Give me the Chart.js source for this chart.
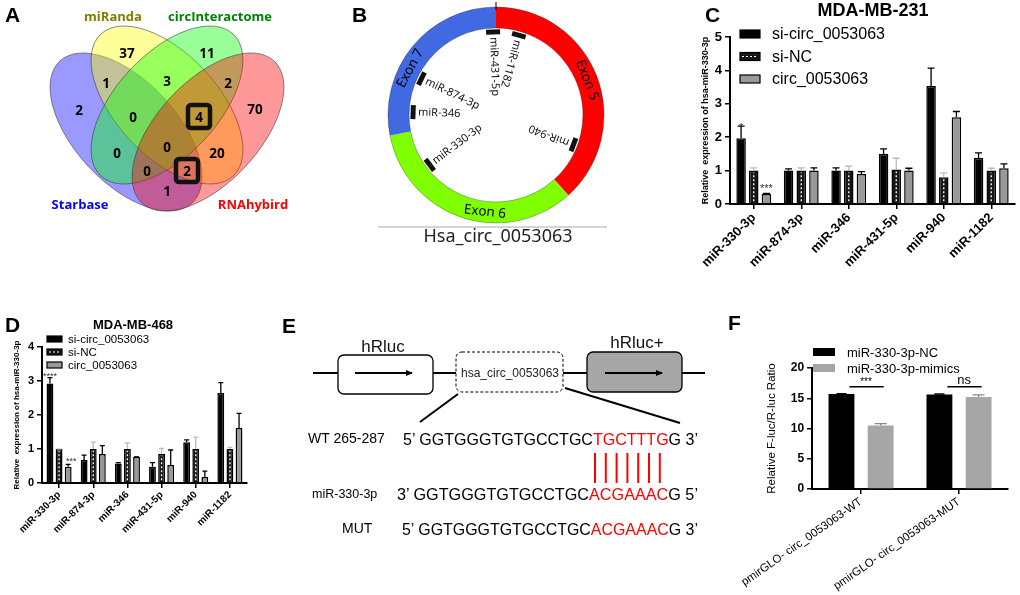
<!DOCTYPE html>
<html>
<head>
<meta charset="utf-8">
<script src="https://cdn.jsdelivr.net/npm/chart.js@4.4.1/dist/chart.umd.min.js"></script>
<style>
  body { margin: 0; background: #fff; }
  #fig { position: relative; width: 1020px; height: 595px; overflow: hidden; }
  canvas, svg { position: absolute; }
</style>
</head>
<body>
<div id="fig">
  <canvas id="ring" width="230" height="230" style="left:381px;top:0px;width:230px;height:230px"></canvas>
  <canvas id="c231" width="320" height="300" style="left:700px;top:0px;width:320px;height:300px"></canvas>
  <canvas id="c468" width="260" height="295" style="left:0px;top:300px;width:260px;height:295px"></canvas>
  <canvas id="luc" width="300" height="295" style="left:720px;top:300px;width:300px;height:295px"></canvas>
  <svg id="draw" width="1020" height="595" style="left:0;top:0"></svg>
</div>
<script>
// ---- data ----
// A: Venn counts
const vennSets = ['miRanda', 'circInteractome', 'Starbase', 'RNAhybird'];
const vennCounts = [37, 11, 1, 3, 2, 2, 0, 4, 70, 0, 0, 20, 0, 2, 1];
const vennBoxed = [7, 13]; // indexes of counts that are framed

// B: circRNA exons and miRNA sites
const exonNames = ['Exon 5', 'Exon 6', 'Exon 7'];
const exonArc = [138, 121, 101];
const siteNames = ['miR-431-5p', 'miR-1182', 'miR-940', 'miR-330-3p', 'miR-346', 'miR-874-3p'];
const siteAngles = [358, 16, 111, 233, 272, 296];

// C / D: relative expression
const mirs = ['miR-330-3p', 'miR-874-3p', 'miR-346', 'miR-431-5p', 'miR-940', 'miR-1182'];
const groups = ['si-circ_0053063', 'si-NC', 'circ_0053063'];
const mb231SiCirc = [1.97, 1.0, 1.0, 1.5, 3.53, 1.38];
const mb231SiCircErr = [0.36, 0.05, 0.08, 0.15, 0.54, 0.15];
const mb231SiNC = [1.0, 1.0, 1.0, 1.03, 0.8, 1.0];
const mb231SiNCErr = [0.08, 0.08, 0.13, 0.34, 0.13, 0.07];
const mb231Circ = [0.3, 1.0, 0.9, 1.0, 2.6, 1.07];
const mb231CircErr = [0.02, 0.08, 0.07, 0.07, 0.17, 0.13];

const mb468SiCirc = [2.93, 0.68, 0.57, 0.48, 1.2, 2.65];
const mb468SiCircErr = [0.17, 0.14, 0.03, 0.12, 0.07, 0.3];
const mb468SiNC = [1.0, 1.0, 1.0, 0.85, 1.0, 1.0];
const mb468SiNCErr = [0.0, 0.2, 0.18, 0.17, 0.35, 0.05];
const mb468Circ = [0.48, 0.85, 0.77, 0.53, 0.18, 1.62];
const mb468CircErr = [0.07, 0.25, 0.0, 0.44, 0.17, 0.43];

// F: luciferase
const lucGroups = ['pmirGLO- circ_0053063-WT', 'pmirGLO- circ_0053063-MUT'];
const lucSeries = ['miR-330-3p-NC', 'miR-330-3p-mimics'];
const lucNC = [15.7, 15.6];
const lucNCErr = [0.05, 0.1];
const lucMimics = [10.5, 15.2];
const lucMimicsErr = [0.3, 0.35];
const lucSig = ['***', 'ns'];

// E: sequences
const wtSeq = ['5\u2019 GGTGGGTGTGCCTGC', 'TGCTTTG', 'G 3\u2019'];
const mirSeq = ['3\u2019 GGTGGGTGTGCCTGC', 'ACGAAAC', 'G 5\u2019'];
const mutSeq = ['5\u2019 GGTGGGTGTGCCTGC', 'ACGAAAC', 'G 3\u2019'];

const FONT = '"Liberation Sans", Arial, sans-serif';
Chart.defaults.font.family = FONT;
Chart.defaults.color = '#000';
Chart.defaults.animation = false;

// ---- plugins ----
const errorBars = {
  id: 'errorBars',
  afterDatasetsDraw(chart) {
    const ctx = chart.ctx, y = chart.scales.y;
    chart.data.datasets.forEach((ds, di) => {
      const meta = chart.getDatasetMeta(di);
      meta.data.forEach((bar, i) => {
        if (ds.wavy) {
          ctx.save();
          ctx.strokeStyle = '#fff';
          ctx.lineWidth = 1.3;
          ctx.setLineDash([2, 2]);
          ctx.beginPath();
          ctx.moveTo(bar.x, bar.base - 2);
          ctx.lineTo(bar.x, bar.y + 2);
          ctx.stroke();
          ctx.restore();
        }
        const top = y.getPixelForValue(ds.data[i] + ds.errors[i]);
        ctx.save();
        ctx.strokeStyle = ds.errColor;
        ctx.lineWidth = 1.3;
        ctx.beginPath();
        ctx.moveTo(bar.x, bar.y);
        ctx.lineTo(bar.x, top);
        ctx.moveTo(bar.x - ds.cap, top);
        ctx.lineTo(bar.x + ds.cap, top);
        ctx.stroke();
        ctx.restore();
      });
    });
  }
};

const panelDecor = {
  id: 'panelDecor',
  afterDraw(chart, args, opts) {
    const ctx = chart.ctx;
    ctx.save();
    if (opts.title) {
      ctx.font = opts.title.font;
      ctx.textAlign = 'center';
      ctx.textBaseline = 'middle';
      ctx.fillStyle = '#000';
      ctx.fillText(opts.title.text, opts.title.x, opts.title.y);
    }
    const lg = opts.legend;
    chart.data.datasets.forEach((ds, i) => {
      const yy = lg.y + i * lg.row;
      ctx.fillStyle = ds.backgroundColor;
      ctx.fillRect(lg.x, yy - lg.bh / 2, lg.bw, lg.bh);
      if (ds.borderWidth) {
        ctx.strokeStyle = '#000';
        ctx.lineWidth = 1.2;
        ctx.strokeRect(lg.x, yy - lg.bh / 2, lg.bw, lg.bh);
      }
      if (ds.wavy) {
        ctx.strokeStyle = '#fff';
        ctx.lineWidth = 1.2;
        ctx.setLineDash([2, 2]);
        ctx.beginPath();
        ctx.moveTo(lg.x + 2, yy);
        ctx.lineTo(lg.x + lg.bw - 2, yy);
        ctx.stroke();
        ctx.setLineDash([]);
      }
      ctx.fillStyle = '#000';
      ctx.font = lg.font;
      ctx.textAlign = 'left';
      ctx.textBaseline = 'middle';
      ctx.fillText(ds.label, lg.tx, yy + 1);
    });
    // significance marks on single bars
    (opts.stars || []).forEach(s => {
      const ds = chart.data.datasets[s.ds];
      const bar = chart.getDatasetMeta(s.ds).data[s.i];
      const top = chart.scales.y.getPixelForValue(ds.data[s.i] + ds.errors[s.i]);
      ctx.fillStyle = '#333';
      ctx.font = opts.starFont;
      ctx.textAlign = 'center';
      ctx.textBaseline = 'alphabetic';
      ctx.fillText(s.text, bar.x + (s.dx || 0), top + (s.dy || 0));
    });
    // bracket comparisons
    (opts.pairs || []).forEach(p => {
      const b0 = chart.getDatasetMeta(0).data[p.i];
      const b1 = chart.getDatasetMeta(1).data[p.i];
      const ly = chart.scales.y.getPixelForValue(p.at);
      ctx.strokeStyle = '#000';
      ctx.lineWidth = 1.3;
      ctx.beginPath();
      ctx.moveTo(b0.x + 8, ly);
      ctx.lineTo(b1.x + 3, ly);
      ctx.stroke();
      ctx.fillStyle = '#000';
      ctx.font = p.font;
      ctx.textAlign = 'center';
      ctx.textBaseline = 'alphabetic';
      ctx.fillText(p.text, (b0.x + b1.x) / 2 + 5, ly - p.lift);
    });
    ctx.restore();
  }
};

function xAxis(h, size, rot, weight) {
  return {
    offset: true,
    grid: { drawOnChartArea: false, drawTicks: true, tickLength: 5, offset: false, color: '#000', lineWidth: 1.5 },
    border: { display: true, color: '#000', width: 2 },
    ticks: { font: { size: size, weight: weight }, minRotation: rot, maxRotation: rot, autoSkip: false, padding: 1 },
    afterFit: s => { s.height = h; }
  };
}
function yAxis(w, max, step, size, title, titleFont) {
  return {
    min: 0, max: max,
    grid: { drawOnChartArea: false, drawTicks: true, tickLength: 5, color: '#000', lineWidth: 1.5 },
    border: { display: true, color: '#000', width: 2 },
    ticks: { stepSize: step, font: { size: size, weight: 'bold' }, padding: 3 },
    title: { display: true, text: title, font: titleFont, padding: { top: 0, bottom: 2 } },
    afterFit: s => { s.width = w; }
  };
}
function exprSets(a, ae, b, be, c, ce, cap) {
  return [
    { label: groups[0], data: a, errors: ae, backgroundColor: '#000', borderColor: '#000', borderWidth: 1.5, errColor: '#000', cap: cap },
    { label: groups[1], data: b, errors: be, backgroundColor: '#151515', borderColor: '#000', borderWidth: 1.5, errColor: '#bbb', cap: cap, wavy: true },
    { label: groups[2], data: c, errors: ce, backgroundColor: '#999', borderColor: '#000', borderWidth: 1.5, errColor: '#000', cap: cap }
  ];
}

// ---- C ----
new Chart(document.getElementById('c231'), {
  type: 'bar',
  data: { labels: mirs, datasets: exprSets(mb231SiCirc, mb231SiCircErr, mb231SiNC, mb231SiNCErr, mb231Circ, mb231CircErr, 3.5) },
  options: {
    responsive: false,
    layout: { padding: { top: 37, right: 5, left: 0, bottom: 0 } },
    datasets: { bar: { categoryPercentage: 0.8, barPercentage: 0.75 } },
    scales: {
      x: xAxis(96, 13, 45, 'bold'),
      y: yAxis(30, 5, 1, 13, 'Relative  expression of hsa-miR-330-3p', { size: 9, weight: 'bold' })
    },
    plugins: {
      legend: { display: false }, tooltip: { enabled: false },
      panelDecor: {
        title: { text: 'MDA-MB-231', x: 173, y: 11, font: 'bold 18px ' + FONT },
        legend: { x: 40, y: 34, row: 22.5, bw: 20, bh: 8, tx: 72, font: '16px ' + FONT },
        starFont: '11px ' + FONT,
        stars: [{ ds: 0, i: 0, text: '*', dy: 5 }, { ds: 2, i: 0, text: '***', dy: -1 }]
      }
    }
  },
  plugins: [errorBars, panelDecor]
});

// ---- D ----
new Chart(document.getElementById('c468'), {
  type: 'bar',
  data: { labels: mirs, datasets: exprSets(mb468SiCirc, mb468SiCircErr, mb468SiNC, mb468SiNCErr, mb468Circ, mb468CircErr, 2.5) },
  options: {
    responsive: false,
    layout: { padding: { top: 47, right: 13, left: 12, bottom: 0 } },
    datasets: { bar: { categoryPercentage: 0.8, barPercentage: 0.75 } },
    scales: {
      x: xAxis(112, 10, 45, 'bold'),
      y: yAxis(30, 4, 1, 11, 'Relative  expression of hsa-miR-330-3p', { size: 8, weight: 'bold' })
    },
    plugins: {
      legend: { display: false }, tooltip: { enabled: false },
      panelDecor: {
        title: { text: 'MDA-MB-468', x: 133, y: 25, font: 'bold 13px ' + FONT },
        legend: { x: 47, y: 39, row: 13, bw: 15, bh: 6, tx: 68, font: '11.5px ' + FONT },
        starFont: '9px ' + FONT,
        stars: [{ ds: 0, i: 0, text: '****', dy: 1 }, { ds: 2, i: 0, text: '***', dx: 3, dy: 0 }]
      }
    }
  },
  plugins: [errorBars, panelDecor]
});

// ---- F ----
new Chart(document.getElementById('luc'), {
  type: 'bar',
  data: {
    labels: lucGroups,
    datasets: [
      { label: lucSeries[0], data: lucNC, errors: lucNCErr, backgroundColor: '#000', borderWidth: 0, errColor: '#000', cap: 5 },
      { label: lucSeries[1], data: lucMimics, errors: lucMimicsErr, backgroundColor: '#a6a6a6', borderWidth: 0, errColor: '#888', cap: 6 }
    ]
  },
  options: {
    responsive: false,
    layout: { padding: { top: 68, right: 12, left: 40, bottom: 0 } },
    datasets: { bar: { categoryPercentage: 0.8, barPercentage: 0.66 } },
    scales: {
      x: xAxis(106, 11.5, 35, 'normal'),
      y: yAxis(47, 20, 5, 12, 'Relative F-luc/R-luc Ratio', { size: 11.5 })
    },
    plugins: {
      legend: { display: false }, tooltip: { enabled: false },
      panelDecor: {
        legend: { x: 93, y: 52, row: 16, bw: 22, bh: 8, tx: 127, font: '13px ' + FONT },
        pairs: [{ i: 0, at: 16.9, text: lucSig[0], font: '10px ' + FONT, lift: 2 },
                { i: 1, at: 16.9, text: lucSig[1], font: '13px ' + FONT, lift: 3 }]
      }
    }
  },
  plugins: [errorBars, panelDecor]
});

// ---- B ----
const exonShift = [0, -12, -11];
const ringDecor = {
  id: 'ringDecor',
  afterDatasetsDraw(chart) {
    const ctx = chart.ctx;
    const arcs = chart.getDatasetMeta(0).data;
    const cx = arcs[0].x, cy = arcs[0].y;
    const rIn = arcs[0].innerRadius, rOut = arcs[0].outerRadius;
    const rad = d => d * Math.PI / 180;
    ctx.save();
    ctx.strokeStyle = 'rgba(0,0,0,0.35)';
    ctx.lineWidth = 0.8;
    ctx.beginPath(); ctx.arc(cx, cy, rOut, 0, Math.PI * 2); ctx.stroke();
    ctx.beginPath(); ctx.arc(cx, cy, rIn, 0, Math.PI * 2); ctx.stroke();
    // start tick
    ctx.strokeStyle = '#000';
    ctx.lineWidth = 1;
    ctx.beginPath(); ctx.moveTo(cx, cy - rOut - 5); ctx.lineTo(cx, cy - rOut + 3); ctx.stroke();
    // exon names
    ctx.fillStyle = '#000';
    ctx.font = '13.5px "Noto Sans", sans-serif';
    ctx.textAlign = 'center';
    ctx.textBaseline = 'middle';
    const rMid = (rIn + rOut) / 2;
    arcs.forEach((a, i) => {
      const th = ((a.startAngle + a.endAngle) / 2) * 180 / Math.PI + 90 + exonShift[i];
      const t = rad(th);
      ctx.save();
      ctx.translate(cx + rMid * Math.sin(t), cy - rMid * Math.cos(t));
      const cosT = Math.cos(t);
      ctx.rotate(cosT >= 0 ? t : t - Math.PI);
      ctx.fillText(exonNames[i], 0, 0);
      ctx.restore();
    });
    // binding sites
    ctx.font = '11px "Noto Sans", sans-serif';
    ctx.textAlign = 'left';
    siteAngles.forEach((deg, i) => {
      const t = rad(deg);
      const rm = rIn - 4;
      ctx.save();
      ctx.translate(cx + rm * Math.sin(t), cy - rm * Math.cos(t));
      ctx.rotate(t);
      ctx.fillStyle = '#111';
      ctx.fillRect(-7, -2.5, 14, 5);
      ctx.restore();
      const rt = rIn - 9;
      ctx.save();
      ctx.translate(cx + rt * Math.sin(t), cy - rt * Math.cos(t));
      ctx.rotate(Math.atan2(Math.cos(t), -Math.sin(t)));
      ctx.fillStyle = '#111';
      ctx.fillText(siteNames[i], 0, 0);
      ctx.restore();
    });
    ctx.restore();
  }
};
new Chart(document.getElementById('ring'), {
  type: 'doughnut',
  data: { labels: exonNames, datasets: [{ data: exonArc, backgroundColor: ['#ff0000', '#80ff00', '#4169e1'], borderWidth: 0 }] },
  options: {
    responsive: false,
    cutout: '80.5%',
    layout: { padding: 7 },
    plugins: { legend: { display: false }, tooltip: { enabled: false } }
  },
  plugins: [ringDecor]
});

// ---- SVG: A, E, letters ----
const NS = 'http://www.w3.org/2000/svg';
const svg = document.getElementById('draw');
function el(tag, attrs, text) {
  const e = document.createElementNS(NS, tag);
  for (const k in attrs) e.setAttribute(k, attrs[k]);
  if (text !== undefined) e.textContent = text;
  svg.appendChild(e);
  return e;
}

// Venn
const vennShapes = [
  { cx: 126, cy: 132, rot: 47, fill: 'rgba(0,0,255,0.4)' },
  { cx: 167, cy: 105, rot: 47, fill: 'rgba(255,255,0,0.4)' },
  { cx: 167, cy: 105, rot: -47, fill: 'rgba(0,255,0,0.4)' },
  { cx: 208, cy: 132, rot: -47, fill: 'rgba(255,0,0,0.4)' }
];
vennShapes.forEach(s => el('ellipse', { cx: s.cx, cy: s.cy, rx: 97, ry: 51, fill: s.fill, stroke: 'rgba(60,60,60,0.8)', 'stroke-width': 0.7, transform: `rotate(${s.rot} ${s.cx} ${s.cy})` }));
const vennPos = [[127, 53], [207, 53], [106, 83], [167, 81], [228, 83], [79, 110], [133, 117], [199, 117], [255, 109], [117, 153], [167, 147], [217, 153], [147, 171], [187, 171], [167, 191]];
vennBoxed.forEach(i => {
  const [x, y] = vennPos[i];
  el('rect', { x: x - 11, y: y - 12, width: 22, height: 23, rx: 3, fill: 'none', stroke: '#111', 'stroke-width': 4.5 });
});
vennCounts.forEach((n, i) => el('text', { x: vennPos[i][0], y: vennPos[i][1] + 5, 'text-anchor': 'middle', 'font-family': '"Open Sans", sans-serif', 'font-weight': 'bold', 'font-size': 13.5, fill: '#000' }, n));
const vennLabelPos = [[113, 21], [220, 21], [80, 209], [253, 209]];
const vennLabelColor = ['#808000', '#008000', '#0000ff', '#ff0000'];
vennSets.forEach((t, i) => el('text', { x: vennLabelPos[i][0], y: vennLabelPos[i][1], 'text-anchor': 'middle', 'font-family': '"Open Sans", sans-serif', 'font-weight': 'bold', 'font-size': 13, fill: vennLabelColor[i] }, t));

// B caption
el('line', { x1: 378, y1: 227, x2: 607, y2: 227, stroke: '#aaa', 'stroke-width': 1 });
el('text', { x: 498, y: 242, 'text-anchor': 'middle', 'font-family': '"Noto Sans", sans-serif', 'font-size': 18, fill: '#222' }, 'Hsa_circ_0053063');

// E construct
el('defs', {}).innerHTML = '<marker id="ah" markerWidth="8" markerHeight="8" refX="6" refY="3" orient="auto" markerUnits="userSpaceOnUse"><path d="M0,0 L7,3 L0,6 z" fill="#000"/></marker>';
[[313, 338], [433, 456], [563, 587], [682, 705]].forEach(s => el('line', { x1: s[0], y1: 373, x2: s[1], y2: 373, stroke: '#000', 'stroke-width': 2 }));
el('rect', { x: 338, y: 355, width: 95, height: 39, rx: 6, fill: '#fff', stroke: '#000', 'stroke-width': 1.3 });
el('line', { x1: 355, y1: 373, x2: 412, y2: 373, stroke: '#000', 'stroke-width': 2, 'marker-end': 'url(#ah)' });
el('rect', { x: 456, y: 352, width: 107, height: 40, rx: 6, fill: '#fff', stroke: '#000', 'stroke-width': 1, 'stroke-dasharray': '3,2' });
el('text', { x: 510, y: 377, 'text-anchor': 'middle', 'font-family': FONT, 'font-size': 12, fill: '#222' }, 'hsa_circ_0053063');
el('rect', { x: 587, y: 352, width: 95, height: 40, rx: 6, fill: '#a6a6a6', stroke: '#000', 'stroke-width': 1.3 });
el('line', { x1: 605, y1: 373, x2: 662, y2: 373, stroke: '#000', 'stroke-width': 2, 'marker-end': 'url(#ah)' });
el('text', { x: 383, y: 352, 'text-anchor': 'middle', 'font-family': FONT, 'font-size': 17, fill: '#111' }, 'hRluc');
el('text', { x: 637, y: 348, 'text-anchor': 'middle', 'font-family': FONT, 'font-size': 17, fill: '#111' }, 'hRluc+');
el('line', { x1: 458, y1: 394, x2: 420, y2: 422, stroke: '#000', 'stroke-width': 2 });
el('line', { x1: 565, y1: 388, x2: 680, y2: 423, stroke: '#000', 'stroke-width': 2 });

function seqRow(x, y, w, parts) {
  const t = el('text', { x: x, y: y, 'font-family': FONT, 'font-size': 16.5, fill: '#000', textLength: w, lengthAdjust: 'spacingAndGlyphs' });
  parts.forEach((p, i) => {
    const s = document.createElementNS(NS, 'tspan');
    s.textContent = p;
    if (i === 1) s.setAttribute('fill', '#ff0000');
    t.appendChild(s);
  });
}
el('text', { x: 308, y: 443, 'font-family': FONT, 'font-size': 14, fill: '#000' }, 'WT 265-287');
seqRow(403, 445, 295, wtSeq);
for (let k = 0; k < 7; k++) el('line', { x1: 595 + k * 10.8, y1: 453, x2: 595 + k * 10.8, y2: 483, stroke: '#ff0000', 'stroke-width': 2 });
el('text', { x: 312, y: 498, 'font-family': FONT, 'font-size': 12.5, fill: '#000' }, 'miR-330-3p');
seqRow(397, 500, 301, mirSeq);
el('text', { x: 342, y: 533, 'font-family': FONT, 'font-size': 14, fill: '#000' }, 'MUT');
seqRow(402, 535, 296, mutSeq);

// panel letters
[['A', 5, 22], ['B', 352, 22], ['C', 705, 22], ['D', 5, 332], ['E', 282, 333], ['F', 728, 330]].forEach(l =>
  el('text', { x: l[1], y: l[2], 'font-family': FONT, 'font-weight': 'bold', 'font-size': 21, fill: '#000' }, l[0]));
</script>
</body>
</html>
